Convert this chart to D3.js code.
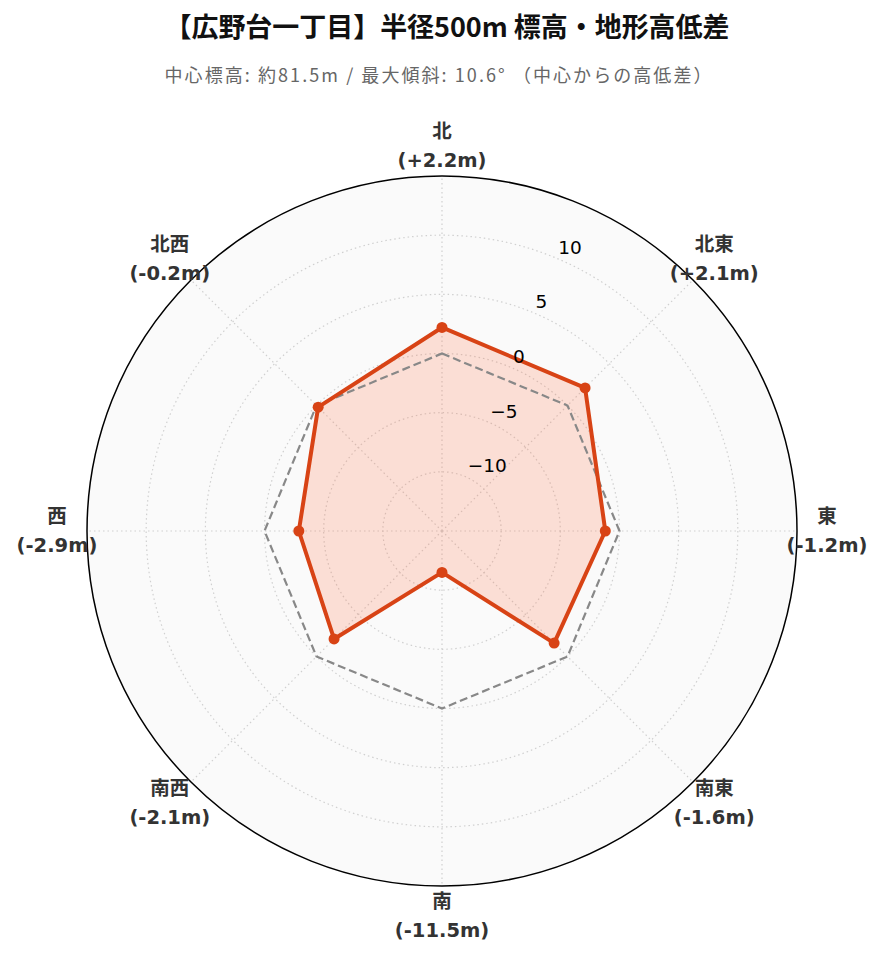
<!DOCTYPE html>
<html>
<head>
<meta charset="utf-8">
<script src="https://cdn.jsdelivr.net/npm/d3@7"></script>
<style>
  body { margin: 0; background: #fff; }
  svg { display: block; }
</style>
</head>
<body>
<svg id="chart"></svg>
<script>
// 方位ごとの高低差 (中心からの差, m)
const directions = ['北', '北東', '東', '南東', '南', '南西', '西', '北西'];
const diffs = [2.2, 2.1, -1.2, -1.6, -11.5, -2.1, -2.9, -0.2];
const radialTicks = [-10, -5, 0, 5, 10];

const titleText = '【広野台一丁目】半径500m 標高・地形高低差';
const subtitleText = '中心標高: 約81.5m / 最大傾斜: 10.6° （中心からの高低差）';

const width = 885;
const height = 962;
const cx = 442;
const cy = 531;
const outerR = 355;

const svg = d3.select('#chart')
  .attr('width', width)
  .attr('height', height);

// Radial scale: value -> radius
const r = d3.scaleLinear()
  .domain([-15, 15])
  .range([0, outerR]);

// Angle per direction, clockwise from north
const angle = d3.scalePoint()
  .domain(directions)
  .range([0, 2 * Math.PI * (directions.length - 1) / directions.length]);

const toXY = (dir, v) => {
  const a = angle(dir);
  const rr = r(v);
  return [rr * Math.sin(a), -rr * Math.cos(a)];
};

// Title & subtitle
svg.append('text')
  .attr('x', 447)
  .attr('y', 37)
  .attr('text-anchor', 'middle')
  .attr('textLength', 565)
  .attr('lengthAdjust', 'spacing')
  .style('font-family', '"Noto Sans CJK JP", sans-serif')
  .style('font-weight', 'bold')
  .style('font-size', '27px')
  .style('fill', '#111')
  .text(titleText);

svg.append('text')
  .attr('x', 438)
  .attr('y', 82)
  .attr('text-anchor', 'middle')
  .attr('textLength', 547)
  .attr('lengthAdjust', 'spacing')
  .style('font-family', '"Noto Sans CJK JP", sans-serif')
  .style('font-size', '18px')
  .style('fill', '#666')
  .text(subtitleText);

const g = svg.append('g')
  .attr('transform', `translate(${cx},${cy})`);

// Polar background
g.append('circle')
  .attr('r', outerR)
  .attr('fill', '#fafafa');

// Grid circles
g.append('g')
  .selectAll('circle')
  .data(radialTicks)
  .enter().append('circle')
  .attr('r', d => r(d))
  .attr('fill', 'none')
  .attr('stroke', '#d0d0d0')
  .attr('stroke-width', 1.2)
  .attr('stroke-dasharray', '1.5,3');

// Spokes
g.append('g')
  .selectAll('line')
  .data(directions)
  .enter().append('line')
  .attr('x1', 0)
  .attr('y1', 0)
  .attr('x2', d => toXY(d, 15)[0])
  .attr('y2', d => toXY(d, 15)[1])
  .attr('stroke', '#d0d0d0')
  .attr('stroke-width', 1.2)
  .attr('stroke-dasharray', '1.5,3');

const line = d3.line().curve(d3.curveLinearClosed);

const pts = directions.map((d, i) => toXY(d, diffs[i]));
const zeroPts = directions.map(d => toXY(d, 0));

// Filled area
g.append('path')
  .attr('d', line(pts))
  .attr('fill', '#ff7043')
  .attr('fill-opacity', 0.2)
  .attr('stroke', 'none');

// Reference (0m) line
g.append('path')
  .attr('d', line(zeroPts))
  .attr('fill', 'none')
  .attr('stroke', '#888')
  .attr('stroke-width', 2.2)
  .attr('stroke-dasharray', '8,4');

// Data line
g.append('path')
  .attr('d', line(pts))
  .attr('fill', 'none')
  .attr('stroke', '#d84315')
  .attr('stroke-width', 4)
  .attr('stroke-linejoin', 'round');

g.append('g')
  .selectAll('circle')
  .data(pts)
  .enter().append('circle')
  .attr('cx', d => d[0])
  .attr('cy', d => d[1])
  .attr('r', 5.5)
  .attr('fill', '#d84315');

// Outer frame
g.append('circle')
  .attr('r', outerR)
  .attr('fill', 'none')
  .attr('stroke', '#000')
  .attr('stroke-width', 1.5);

// Radial tick labels along 22.5°
const labelAngle = Math.PI / 8;
g.append('g')
  .selectAll('text')
  .data(radialTicks)
  .enter().append('text')
  .attr('x', d => r(d) * Math.sin(labelAngle) + 3)
  .attr('y', d => -r(d) * Math.cos(labelAngle) - 4)
  .style('font-family', '"DejaVu Sans", sans-serif')
  .style('font-size', '18.5px')
  .style('fill', '#000')
  .text(d => d < 0 ? '\u2212' + Math.abs(d) : d);

// Direction labels
const fmt = v => (v > 0 ? '+' : '') + v.toFixed(1) + 'm';
const labelR = 385;
const dirLabel = g.append('g')
  .selectAll('text')
  .data(directions)
  .enter().append('text')
  .attr('text-anchor', 'middle')
  .style('font-family', '"DejaVu Sans", "Noto Sans CJK JP", sans-serif')
  .style('font-weight', 'bold')
  .style('font-size', '19.5px')
  .style('fill', '#333');

dirLabel.append('tspan')
  .attr('x', d => labelR * Math.sin(angle(d)))
  .attr('y', d => -labelR * Math.cos(angle(d)) - 14.5)
  .attr('dominant-baseline', 'central')
  .text(d => d);

dirLabel.append('tspan')
  .attr('x', d => labelR * Math.sin(angle(d)))
  .attr('y', d => -labelR * Math.cos(angle(d)) + 14.5)
  .attr('dominant-baseline', 'central')
  .text((d, i) => '(' + fmt(diffs[i]) + ')');
</script>
</body>
</html>
